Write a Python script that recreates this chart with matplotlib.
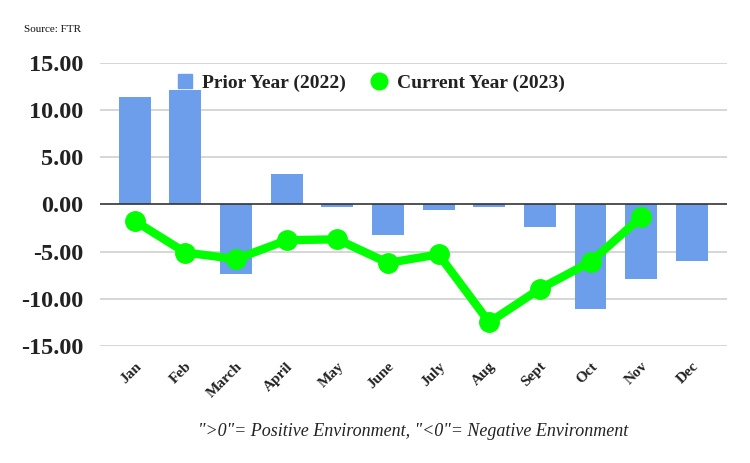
import numpy as np
import matplotlib
matplotlib.use('Agg')
import matplotlib.pyplot as plt
from matplotlib.lines import Line2D

months = ['Jan', 'Feb', 'March', 'April', 'May', 'June',
          'July', 'Aug', 'Sept', 'Oct', 'Nov', 'Dec']
prior_2022 = [11.4, 12.1, -7.35, 3.2, -0.25, -3.2,
              -0.6, -0.25, -2.35, -11.05, -7.9, -6.05]
current_2023 = [-1.75, -5.1, -5.8, -3.8, -3.7, -6.2,
                -5.3, -12.5, -8.95, -6.1, -1.35, np.nan]
yticks = [-15, -10, -5, 0, 5, 10, 15]

BAR_COLOR = '#6d9eeb'
LINE_COLOR = '#00ff00'
TEXT_COLOR = '#222222'

plt.rcParams['font.family'] = ['Liberation Serif', 'DejaVu Serif']

fig = plt.figure(figsize=(7.5, 4.63), dpi=100, facecolor='w')
ax = fig.add_axes([0.133, 0.253, 0.836, 0.611])

x = np.arange(len(months))
ax.bar(x, prior_2022, width=0.63, color=BAR_COLOR, zorder=2)
ax.plot(x, current_2023, color=LINE_COLOR, lw=6, marker='o',
        markersize=14, zorder=3, solid_capstyle='round')

ax.set_xlim(-0.69, len(months) - 0.31)
ax.set_ylim(-15, 15)
ax.set_yticks(yticks)
ax.set_yticklabels(['{:.2f}'.format(v) for v in yticks],
                   fontsize=17.5, fontweight='bold', color=TEXT_COLOR)
ax.set_xticks(x)
ax.set_xticklabels(months, rotation=45, ha='right', rotation_mode='anchor',
                   fontsize=11, fontweight='bold', color=TEXT_COLOR)
ax.tick_params(axis='both', length=0)
ax.tick_params(axis='y', pad=12)
ax.tick_params(axis='x', pad=10)

for v in yticks:
    if v == 0:
        ax.axhline(0, color='#333333', lw=1.2, zorder=4)
    else:
        ax.axhline(v, color='#d0d0d0', lw=1.2, zorder=1)
for s in ax.spines.values():
    s.set_visible(False)

handles = [Line2D([], [], color=BAR_COLOR, marker='s', lw=0, markersize=10,
                  label='Prior Year (2022)'),
           Line2D([], [], color=LINE_COLOR, marker='o', lw=0, markersize=12,
                  label='Current Year (2023)')]
leg = ax.legend(handles=handles, loc='center', bbox_to_anchor=(0.432, 0.93),
                ncol=2, frameon=False, handlelength=0.8, handletextpad=0.5,
                columnspacing=1.3, prop={'size': 14, 'weight': 'bold'})
for t in leg.get_texts():
    t.set_color(TEXT_COLOR)

fig.text(24 / 750, 1 - 29 / 463, 'Source: FTR', fontsize=8, va='center',
         color='#111111')
fig.text(413 / 750, 1 - 432 / 463,
         '">0"= Positive Environment, "<0"= Negative Environment',
         fontsize=13, style='italic', ha='center', va='center',
         color=TEXT_COLOR)

fig.savefig('out.png', dpi=100)
